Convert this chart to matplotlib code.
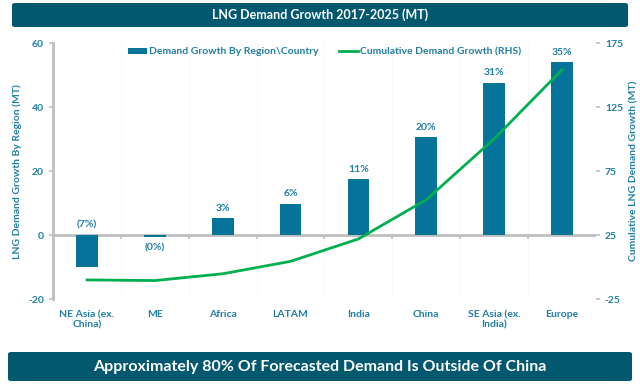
import numpy as np
import matplotlib
matplotlib.use("Agg")
import matplotlib.pyplot as plt
from matplotlib.patches import FancyBboxPatch

regions = ["NE Asia (ex.\nChina)", "ME", "Africa", "LATAM", "India", "China",
           "SE Asia (ex.\nIndia)", "Europe"]
growth = [-10.0, -0.5, 5.3, 9.7, 17.5, 30.6, 47.5, 54.0]
pct_labels = ["(7%)", "(0%)", "3%", "6%", "11%", "20%", "31%", "35%"]
cumulative = np.cumsum(growth)

BAR = "#05739a"
GREEN = "#00b050"
TEXT = "#1f7fa3"
BANNER = "#02586f"
GRAY = "#bfbfbf"

plt.rcParams["font.family"] = ["Lato", "DejaVu Sans"]
plt.rcParams["font.weight"] = "bold"
plt.rcParams["axes.unicode_minus"] = False

fig = plt.figure(figsize=(6.4, 3.84), dpi=100)
ax = fig.add_axes([0.083, 0.221, 0.848, 0.667])
ax2 = ax.twinx()

x = np.arange(len(regions))
ax.bar(x, growth, width=0.32, color=BAR, label="Demand Growth By Region\\Country", zorder=3)
ax2.plot(x, cumulative, color=GREEN, lw=2, label="Cumulative Demand Growth (RHS)", zorder=4)

ax.set_xlim(-0.5, len(regions) - 0.5)
ax.set_ylim(-20, 60)
ax.set_yticks([-20, 0, 20, 40, 60])
ax2.set_ylim(-25, 175)
ax2.set_yticks([-25, 25, 75, 125, 175])

# faint vertical separators
for b in np.arange(0.5, len(regions) - 0.5, 1):
    ax.axvline(b, color="#f7f7f7", lw=0.6, zorder=0)

# zero line with category separator ticks
ax.axhline(0, color=GRAY, lw=2, zorder=2)
sec = ax.secondary_xaxis(0.25)
sec.set_xticks(np.arange(0.5, len(regions) - 0.5, 1))
sec.set_xticklabels([])
sec.tick_params(length=3, width=1.2, color=GRAY)
sec.spines["bottom"].set_visible(False)

ax.set_xticks(x)
ax.set_xticklabels(regions, color=TEXT, fontsize=7.5, fontweight="bold")
ax.tick_params(axis="x", length=0, pad=8)

for s in ["top", "right", "bottom"]:
    ax.spines[s].set_visible(False)
    ax2.spines[s].set_visible(False)
ax2.spines["left"].set_visible(False)
ax.spines["left"].set_color(GRAY)
ax.spines["left"].set_linewidth(2)
ax2.spines["right"].set_color(GRAY)
ax2.spines["right"].set_linewidth(2)

ax.tick_params(axis="y", colors=GRAY, labelcolor=TEXT, labelsize=7.5, length=3, width=1.2)
ax2.tick_params(axis="y", colors=GRAY, labelcolor=TEXT, labelsize=7.5, length=3, width=1.2)
for t in ax.get_yticklabels() + ax2.get_yticklabels():
    t.set_fontweight("bold")

ax.set_ylabel("LNG Demand Growth By Region (MT)", color=TEXT, fontsize=7.5, fontweight="bold")
ax2.set_ylabel("Cumulative LNG Demand Growth (MT)", color=TEXT, fontsize=7.5, fontweight="bold")
ax.yaxis.set_label_coords(-0.057, 0.5)
ax2.yaxis.set_label_coords(1.062, 0.5)

for i, (v, lab) in enumerate(zip(growth, pct_labels)):
    if v >= 0:
        ax.annotate(lab, (i, v), xytext=(0, 4), textcoords="offset points",
                    ha="center", va="bottom", color=TEXT, fontsize=7.5, fontweight="bold")
    elif v > -2:
        ax.annotate(lab, (i, v), xytext=(0, -5), textcoords="offset points",
                    ha="center", va="top", color=TEXT, fontsize=7.5, fontweight="bold")
    else:
        ax.annotate(lab, (i, 0), xytext=(0, 4), textcoords="offset points",
                    ha="center", va="bottom", color=TEXT, fontsize=7.5, fontweight="bold")

h1, l1 = ax.get_legend_handles_labels()
h2, l2 = ax2.get_legend_handles_labels()
leg = ax.legend(h1 + h2, l1 + l2, loc="upper center", bbox_to_anchor=(0.5, 1.02), ncol=2,
                frameon=False, fontsize=7.5, handlelength=1.8, handleheight=0.5,
                handletextpad=0.2, columnspacing=2.0)
for t in leg.get_texts():
    t.set_color(TEXT)
    t.set_fontweight("bold")

# banners
top = FancyBboxPatch((12 / 640, 1 - 27 / 384), 616 / 640, 24 / 384,
                     boxstyle="round,pad=0,rounding_size=0.005", transform=fig.transFigure,
                     facecolor=BANNER, edgecolor="none")
fig.patches.append(top)
fig.text(0.5, 1 - 15 / 384, "LNG Demand Growth 2017-2025 (MT)", ha="center", va="center",
         color="white", fontsize=9, fontweight="bold")
bot = FancyBboxPatch((8 / 640, 1 - 381 / 384), 624 / 640, 29 / 384,
                     boxstyle="round,pad=0,rounding_size=0.005", transform=fig.transFigure,
                     facecolor=BANNER, edgecolor="none")
fig.patches.append(bot)
fig.text(0.5, 1 - 367 / 384, "Approximately 80% Of Forecasted Demand Is Outside Of China",
         ha="center", va="center", color="white", fontsize=11.5, fontweight="bold")

fig.savefig("out.png", dpi=100)
